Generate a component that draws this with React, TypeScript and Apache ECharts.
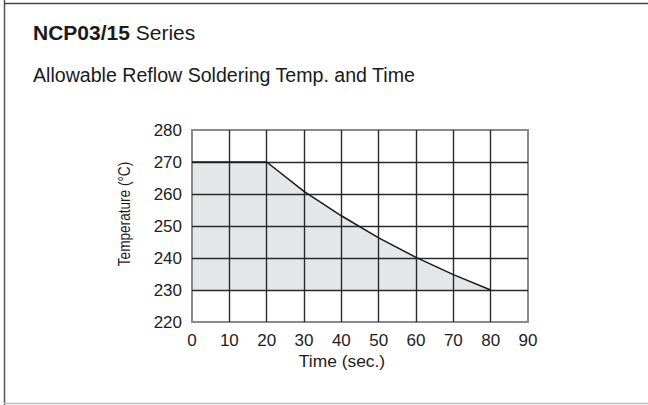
import React, { useEffect, useRef } from "react";
import * as echarts from "echarts";

const timeTicks = [0, 10, 20, 30, 40, 50, 60, 70, 80, 90];
const tempTicks = [220, 230, 240, 250, 260, 270, 280];
const curveTime = [0, 10, 20, 30, 40, 50, 60, 70, 80];
const curveTemp = [270, 270, 270, 260.8, 253.2, 246.3, 240.2, 234.8, 230];
const areaBase = 230;

const FONT = "'Liberation Sans', Arial, Helvetica, sans-serif";

export default function App() {
  const ref = useRef<HTMLDivElement>(null);
  useEffect(() => {
    document.body.style.margin = "0";
    const chart = echarts.init(ref.current!, undefined, { renderer: "svg" });
    const pts = curveTime.map((t, i) => [t, curveTemp[i]]);
    chart.setOption({
      animation: false,
      backgroundColor: "#ffffff",
      textStyle: { fontFamily: FONT },
      grid: {
        left: 192,
        top: 130,
        width: 336,
        height: 192,
        show: true,
        borderColor: "#8a8a8a",
        borderWidth: 2,
        backgroundColor: "transparent",
      },
      xAxis: {
        type: "value",
        min: timeTicks[0],
        max: timeTicks[timeTicks.length - 1],
        interval: 10,
        axisLine: { show: false },
        axisTick: { show: false },
        axisLabel: { color: "#222", fontSize: 17, fontFamily: FONT, margin: 10 },
        splitLine: { show: true, showMinLine: false, showMaxLine: false, lineStyle: { color: "#2a2a2a", width: 1.4 } },
      },
      yAxis: {
        type: "value",
        min: tempTicks[0],
        max: tempTicks[tempTicks.length - 1],
        interval: 10,
        axisLine: { show: false },
        axisTick: { show: false },
        axisLabel: { color: "#222", fontSize: 17, fontFamily: FONT, margin: 10 },
        splitLine: { show: true, showMinLine: false, showMaxLine: false, lineStyle: { color: "#2a2a2a", width: 1.4 } },
      },
      series: [
        {
          type: "line",
          data: pts,
          z: -1,
          symbol: "none",
          lineStyle: { width: 0 },
          areaStyle: { color: "#e5e6e8", opacity: 1, origin: areaBase },
        },
        {
          type: "line",
          data: pts,
          z: 5,
          symbol: "none",
          smooth: false,
          lineStyle: { color: "#1a1a1a", width: 1.5 },
        },
      ],
      graphic: [
        { type: "line", shape: { x1: 4.5, y1: 0, x2: 4.5, y2: 405 }, style: { stroke: "#555", lineWidth: 1.5 } },
        { type: "line", shape: { x1: 4, y1: 3.5, x2: 648, y2: 3.5 }, style: { stroke: "#444", lineWidth: 1.5 } },
        { type: "line", shape: { x1: 4, y1: 403.5, x2: 648, y2: 403.5 }, style: { stroke: "#bbb", lineWidth: 1.5 } },
        {
          type: "text",
          x: 33,
          y: 32.5,
          style: {
            text: "{b|NCP03/15} Series",
            fill: "#1a1a1a",
            font: `21px ${FONT}`,
            verticalAlign: "middle",
            rich: {
              b: { fontWeight: "bold", fontSize: 21, fontFamily: FONT, fill: "#1a1a1a" },
            },
          },
        },
        {
          type: "text",
          x: 33,
          y: 75,
          style: {
            text: "Allowable Reflow Soldering Temp. and Time",
            fill: "#1a1a1a",
            font: `19.6px ${FONT}`,
            verticalAlign: "middle",
          },
        },
        {
          type: "text",
          x: 342,
          y: 361,
          style: {
            text: "Time (sec.)",
            fill: "#1a1a1a",
            font: `17.4px ${FONT}`,
            align: "center",
            verticalAlign: "middle",
          },
        },
        {
          type: "text",
          x: 124,
          y: 214,
          rotation: Math.PI / 2,
          scaleY: 1.2,
          style: {
            text: "Temperature (°C)",
            fill: "#1a1a1a",
            font: `13.6px ${FONT}`,
            align: "center",
            verticalAlign: "middle",
          },
        },
      ],
    });
    return () => chart.dispose();
  }, []);
  return <div ref={ref} style={{ width: 648, height: 405 }} />;
}
